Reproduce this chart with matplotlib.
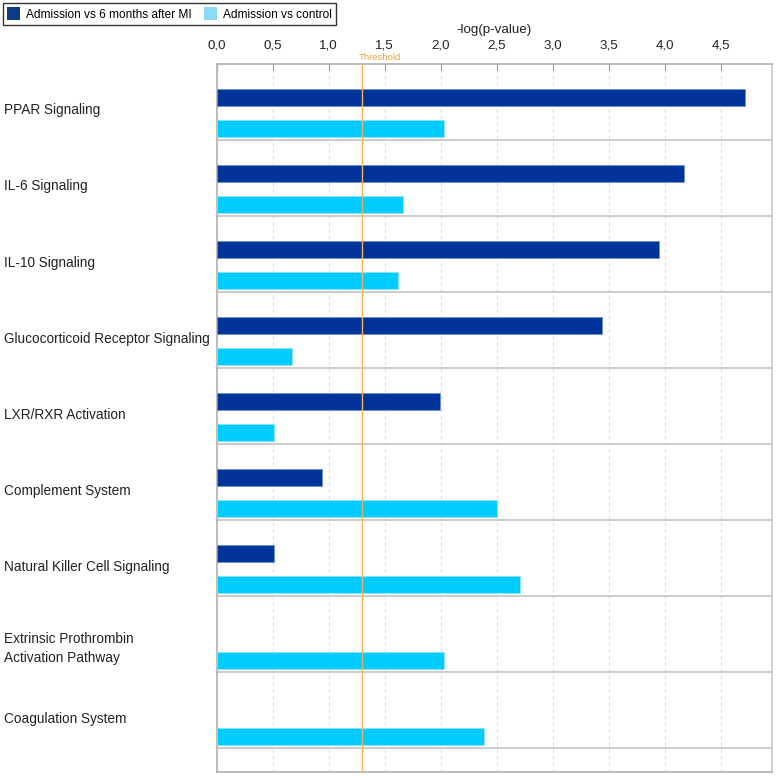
"""
Pathway enrichment bar chart: -log(p-value) for two comparisons.
"""

import matplotlib
matplotlib.use("Agg")
import matplotlib.pyplot as plt
import matplotlib.patches as mpatches
import matplotlib.transforms as mtransforms
import numpy as np

plt.rcParams["font.family"] = ["Liberation Sans", "DejaVu Sans"]

# --- Data ---
pathways = [
    "PPAR Signaling",
    "IL-6 Signaling",
    "IL-10 Signaling",
    "Glucocorticoid Receptor Signaling",
    "LXR/RXR Activation",
    "Complement System",
    "Natural Killer Cell Signaling",
    "Extrinsic Prothrombin\nActivation Pathway",
    "Coagulation System",
]
vs_6_months = [4.72, 4.17, 3.95, 3.44, 1.99, 0.94, 0.51, 0.0, 0.0]
vs_control = [2.03, 1.66, 1.62, 0.675, 0.51, 2.50, 2.71, 2.03, 2.39]
series_names = ["Admission vs 6 months after MI", "Admission vs control"]
tick_values = [0.0, 0.5, 1.0, 1.5, 2.0, 2.5, 3.0, 3.5, 4.0, 4.5]
threshold = -np.log10(0.05)

DARK = "#003399"
LIGHT = "#00ccff"
GRID = "#dcdcdc"
SEP = "#c8c8c8"
ORANGE = "#f3b35a"

fig = plt.figure(figsize=(7.77, 7.77), dpi=100)
ax = fig.add_axes([0.2789, 0.0064, 0.7147, 0.9112])

n = len(pathways)

# bars (skip zero values so no stray edge lines)
for i, (a, b) in enumerate(zip(vs_6_months, vs_control)):
    if a > 0:
        ax.barh(i + 0.44, a, height=0.22, color=DARK,
                edgecolor="#6f8fd0", linewidth=0.5, zorder=3)
    if b > 0:
        ax.barh(i + 0.845, b, height=0.22, color=LIGHT,
                edgecolor="#8fe3ff", linewidth=0.5, zorder=3)

# vertical dashed grid
for t in tick_values[1:]:
    ax.axvline(t, color=GRID, linestyle=(0, (3, 3)), linewidth=0.8, zorder=1)

# horizontal separators between categories
for i in range(1, n + 1):
    ax.axhline(i, color=SEP, linewidth=1.3, zorder=2)

# threshold line
ax.axvline(threshold, color=ORANGE, linewidth=1.0, zorder=4)
trans = mtransforms.blended_transform_factory(ax.transData, ax.transAxes)
ax.text(threshold - 0.03, 1.003, "Threshold", transform=trans,
        ha="left", va="bottom", fontsize=6.8, color="#e9a445")

ax.set_xlim(0, 4.96)
ax.set_ylim(n + 0.31, 0)

ax.xaxis.tick_top()
ax.set_xticks(tick_values)
ax.set_xticklabels([f"{t:.1f}".replace(".", ",") for t in tick_values],
                   fontsize=9.6, color="#222222")
ax.tick_params(axis="x", direction="in", length=4, color="#999999",
               pad=9)
ax.set_yticks([])

for side in ["top", "bottom", "left"]:
    ax.spines[side].set_color("#b0b0b0")
    ax.spines[side].set_linewidth(1.2)
ax.spines["right"].set_color("#c8c8c8")
ax.spines["right"].set_linewidth(1.2)

ax.text(0.5, 1.048, "-log(p-value)", transform=ax.transAxes,
        ha="center", va="center", fontsize=9.6, color="#222222")

# category labels on the left (two-line labels sit a little lower)
ytrans = mtransforms.blended_transform_factory(ax.transAxes, ax.transData)
for i, name in enumerate(pathways):
    offset = 0.68 if "\n" in name else 0.61
    ax.text(-0.383, i + offset, name, transform=ytrans, ha="left",
            va="center", fontsize=9.8, color="#222222", linespacing=1.45)

# legend
handles = [
    mpatches.Patch(facecolor="#0b3a8c", edgecolor="none", label=series_names[0]),
    mpatches.Patch(facecolor="#8dd8f5", edgecolor="none", label=series_names[1]),
]
leg = fig.legend(handles=handles, loc="upper left",
                 bbox_to_anchor=(0.004, 0.996), ncol=2, fontsize=8.6,
                 frameon=True, fancybox=False, edgecolor="black",
                 handlelength=1.1, handleheight=1.3, handletextpad=0.5,
                 columnspacing=1.0, borderpad=0.35, borderaxespad=0)
leg.get_frame().set_linewidth(1.0)

fig.savefig("out.png", dpi=100)
